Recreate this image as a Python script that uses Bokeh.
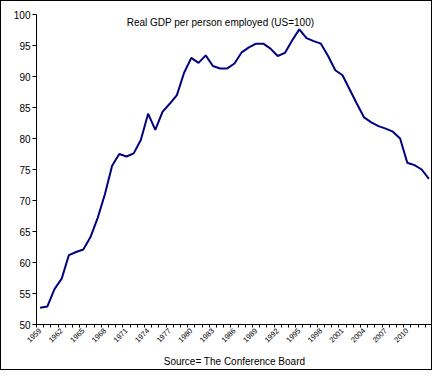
import numpy as np
from bokeh.plotting import figure
from bokeh.models import FixedTicker, Range1d, Label
from bokeh.embed import file_html
from bokeh.resources import INLINE

years = list(range(1959, 2014))
gdp = [52.7, 52.9, 55.7, 57.4, 61.2, 61.7, 62.1, 64.1, 67.2, 71.0,
       75.6, 77.5, 77.1, 77.6, 79.8, 84.0, 81.4, 84.3, 85.6, 87.0,
       90.6, 93.0, 92.2, 93.4, 91.7, 91.3, 91.3, 92.1, 93.9, 94.7,
       95.3, 95.3, 94.5, 93.3, 93.8, 95.8, 97.6, 96.2, 95.7, 95.3,
       93.3, 91.0, 90.2, 87.9, 85.6, 83.4, 82.6, 82.0, 81.6, 81.1,
       80.0, 76.1, 75.7, 75.0, 73.5]
y_ticks = list(range(50, 101, 5))
label_years = list(range(1959, 2011, 3))
title_text = "Real GDP per person employed (US=100)"
source_text = "Source= The Conference Board"

FONT = "Liberation Sans"

p = figure(width=432, height=370, output_backend="svg", toolbar_location=None,
           x_range=Range1d(1958.5, 2013.5), y_range=Range1d(50, 100))
p.min_border_left = 35
p.min_border_right = 1
p.min_border_top = 13
p.min_border_bottom = 47
p.styles = {"border": "1px solid black"}
p.xgrid.visible = False
p.ygrid.visible = False
p.outline_line_color = None
p.background_fill_color = "white"
p.border_fill_color = "white"

p.line(years, gdp, line_color="#000080", line_width=2)

xa = p.xaxis[0]
xa.ticker = FixedTicker(ticks=label_years,
                        minor_ticks=[y - 0.5 for y in range(1959, 2015)])
xa.major_tick_out = 0
xa.major_tick_in = 0
xa.minor_tick_out = 3
xa.minor_tick_in = 0
xa.minor_tick_line_color = "black"
xa.axis_line_color = "black"
xa.major_label_orientation = np.pi / 4
xa.major_label_text_font = FONT
xa.major_label_text_font_size = "7.5px"
xa.major_label_text_color = "black"
xa.major_label_standoff = 2
xa.axis_label = source_text
xa.axis_label_text_font = FONT
xa.axis_label_text_font_size = "10px"
xa.axis_label_text_font_style = "normal"
xa.axis_label_text_color = "black"
xa.axis_label_standoff = 8

ya = p.yaxis[0]
ya.ticker = FixedTicker(ticks=y_ticks, minor_ticks=[])
ya.major_tick_out = 4
ya.major_tick_in = 0
ya.minor_tick_out = 0
ya.minor_tick_in = 0
ya.axis_line_color = "black"
ya.major_tick_line_color = "black"
ya.major_label_text_font = FONT
ya.major_label_text_font_size = "10px"
ya.major_label_text_color = "black"
ya.major_label_standoff = 2

p.add_layout(Label(x=1984.05, y=98.7, text=title_text, text_align="center",
                   text_baseline="middle", text_font=FONT, text_font_size="10px",
                   text_color="black"))

open("out.html", "w").write(file_html(p, INLINE))
